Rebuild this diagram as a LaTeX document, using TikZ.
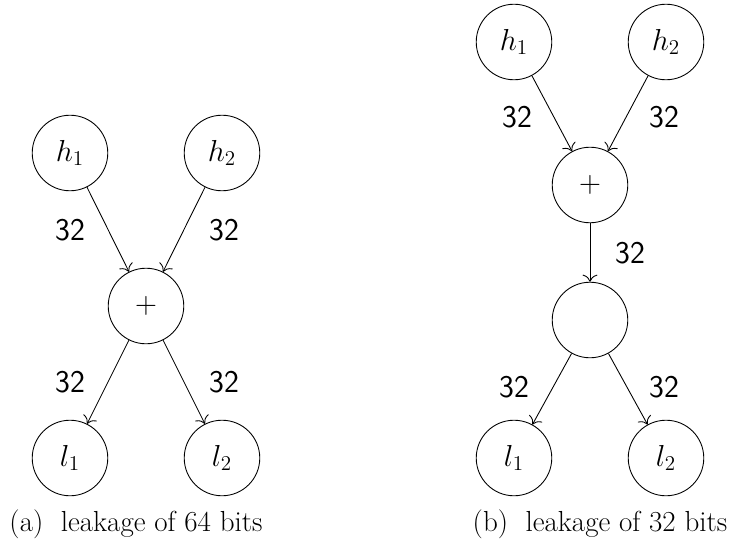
\documentclass[tikz,border=0pt]{standalone}
\usepackage{amsmath}
\usepackage{tikz}
\usetikzlibrary{arrows}
\usetikzlibrary{arrows.meta, calc}

\begin{document}
\begin{tikzpicture}[x=0.02cm, y=-0.02cm, line width=0.5pt,
    vtx/.style={draw, circle, minimum size=43pt, inner sep=0pt, font=\fontsize{17}{20}\selectfont},
    bits/.style={font=\fontsize{18}{21}\selectfont\sffamily},
    capt/.style={font=\fontsize{16.5}{19}\selectfont},
    flow/.style={-{To[scale=1.5]}}]
    \useasboundingbox (0,0) rectangle (729,554);
    % (a) leakage of 64 bits
    \node[vtx] (a_h1) at (70,153) {$h_1$};
    \node[vtx] (a_h2) at (222,153) {$h_2$};
    \node[vtx] (a_p) at (146,306) {$+$};
    \node[vtx] (a_l1) at (70,458) {$l_1$};
    \node[vtx] (a_l2) at (222,458) {$l_2$};
    \draw[flow] (a_h1) -- (a_p);
    \draw[flow] (a_h2) -- (a_p);
    \draw[flow] (a_p) -- (a_l1);
    \draw[flow] (a_p) -- (a_l2);
    \node[bits] (a_b1) at (70,230) {32};
    \node[bits] (a_b2) at (224,230) {32};
    \node[bits] (a_b3) at (70,382) {32};
    \node[bits] (a_b4) at (224,382) {32};
    \node[capt] (a_cap) at (136,524) {(a)\ \ leakage of 64 bits};
    % (b) leakage of 32 bits
    \node[vtx] (b_h1) at (514,42) {$h_1$};
    \node[vtx] (b_h2) at (666,42) {$h_2$};
    \node[vtx] (b_p) at (590,185) {$+$};
    \node[vtx] (b_m) at (590,320) {};
    \node[vtx] (b_l1) at (514,458) {$l_1$};
    \node[vtx] (b_l2) at (666,458) {$l_2$};
    \draw[flow] (b_h1) -- (b_p);
    \draw[flow] (b_h2) -- (b_p);
    \draw[flow] (b_p) -- (b_m);
    \draw[flow] (b_m) -- (b_l1);
    \draw[flow] (b_m) -- (b_l2);
    \node[bits] (b_b1) at (517,117) {32};
    \node[bits] (b_b2) at (664,117) {32};
    \node[bits] (b_b3) at (630,253) {32};
    \node[bits] (b_b4) at (514,387) {32};
    \node[bits] (b_b5) at (664,387) {32};
    \node[capt] (b_cap) at (600,524) {(b)\ \ leakage of 32 bits};
\end{tikzpicture}
\end{document}
